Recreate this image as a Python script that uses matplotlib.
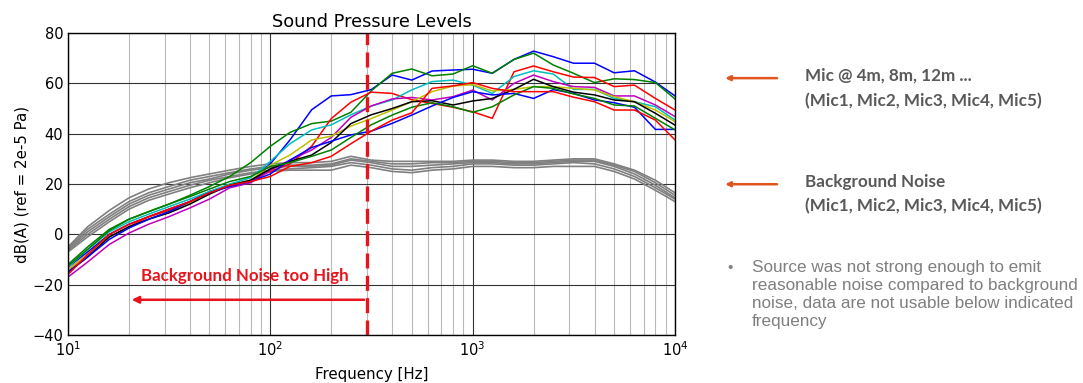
import matplotlib
matplotlib.use("Agg")
import matplotlib.pyplot as plt
from matplotlib.patches import FancyArrowPatch
from matplotlib.ticker import LogLocator

# 1/3-octave band centre frequencies [Hz]
freqs = [10, 12.5, 16, 20, 25, 31.5, 40, 50, 63, 80,
         100, 125, 160, 200, 250, 315, 400, 500, 630, 800,
         1000, 1250, 1600, 2000, 2500, 3150, 4000, 5000, 6300, 8000, 10000]

# A-weighted levels with the source running, dB(A)
mic_b1 = [-13, -7, 0, 4, 7, 10, 13, 17, 19.5, 21, 28, 37.5, 49.5, 55, 55.5, 57.5,
          63.3, 61.3, 64.9, 65.3, 65.6, 64, 69.5, 72.8, 70.6, 68, 68, 64.2, 65, 60.5, 55]
mic_g1 = [-12, -5, 2, 6, 9, 12, 15.5, 19, 23, 28.5, 35, 40.5, 44, 45, 48.5, 57,
          64, 65.7, 63, 63.7, 67, 64, 69.5, 72, 67.3, 64, 60.3, 61.8, 61.5, 60.3, 53.8]
mic_r1 = [-14, -8, -1, 3, 7, 9.5, 13, 16.5, 19.5, 21.5, 25, 28, 35, 46, 52.5, 56.5,
          56, 53.5, 52, 50.5, 48.7, 46.1, 64.6, 66.9, 64.6, 62.5, 62.3, 58.7, 59.3, 54, 49.4]
mic_c = [-13, -6, 1, 5, 8, 11, 14, 17, 20, 22.5, 29, 36, 41.5, 43.5, 47.5, 51,
         53.4, 57.4, 60.7, 61.3, 59.3, 56, 62.7, 65, 63.7, 57.6, 57.6, 54, 52.7, 50.7, 45.4]
mic_m = [-17, -11, -4, 0.5, 4, 7, 10.5, 14, 18.5, 20.5, 25.5, 29.5, 33.5, 38.5, 46.5, 51,
         53.8, 54.4, 53.4, 54.7, 57.3, 53.4, 60, 63.3, 60.7, 58.7, 58.4, 55, 55, 51.4, 46.8]
mic_y = [-14, -8, -1, 3, 6, 9, 12.5, 16, 19.5, 21.5, 27.5, 31.5, 37.5, 39, 43, 46,
         49.4, 52.7, 56.7, 58.9, 59.5, 57, 57.6, 58.7, 58.7, 58, 57.4, 54.7, 52.7, 49.4, 44.8]
mic_k = [-15, -9, -1, 3, 6, 8.5, 12, 16, 19.5, 21.5, 26, 29, 31.5, 36.5, 44, 47.5,
         50, 52.7, 53.1, 51.4, 53, 54, 57.6, 61.6, 58.7, 56.5, 55.4, 53.4, 52.7, 48.1, 43.4]
mic_b2 = [-15, -9, -2, 2.5, 6, 9, 13, 16.5, 19, 21, 24, 29.5, 34.5, 37, 39.5, 41,
          44.1, 47.4, 51, 54.4, 56.7, 55.4, 56, 54, 57.5, 56, 53.4, 52.3, 50.5, 41.7, 41.7]
mic_g2 = [-12.5, -6, 1.5, 6, 9, 12, 15, 18, 21, 23, 27, 28.5, 31, 33.5, 38.5, 43.5,
          47.4, 50.5, 52.3, 50.7, 48.5, 50.7, 55.4, 58.7, 58, 55.8, 54, 51.4, 51, 46.1, 41.5]
mic_r2 = [-16, -8, 0, 4, 7, 10, 13, 16.5, 19.5, 21, 23, 27, 28.5, 31, 36, 41,
          45.4, 48.3, 58, 59, 60.3, 58, 56.7, 56.7, 56.7, 54.5, 52.7, 49.4, 49.4, 45.4, 37.5]

# background noise, source off
bg_1 = [-5, 3, 9.5, 14.5, 18, 20.5, 22.5, 24, 25.5, 27, 28, 28.5, 28.5, 29, 31, 29.5,
        29, 29, 29, 29, 29.5, 29.5, 29, 29, 29.5, 30, 30, 28, 25.5, 21.5, 16.5]
bg_2 = [-5.5, 2, 8, 13, 16.5, 19, 21.5, 23, 24.5, 26, 27, 27.5, 27.5, 28, 30, 29,
        28, 28, 28.5, 28.5, 29, 29, 28.5, 28.5, 29, 29.5, 29.5, 27.5, 25, 20.5, 15.5]
bg_3 = [-6, 1, 7, 12, 15.5, 18, 20.5, 22, 24, 25.5, 26.5, 27, 27, 27.5, 29.5, 28.5,
        27, 27, 27.5, 28, 28.5, 28.5, 28, 28, 28.5, 29, 29, 27, 24, 19.5, 14.5]
bg_4 = [-6.5, 0, 6, 11, 14.5, 17, 19.5, 21.5, 23, 24.5, 25.5, 26, 26.5, 27, 28.5, 27.5,
        26, 25.5, 26.5, 27, 28, 28, 27.5, 27.5, 28, 28.5, 28, 26, 23, 18.5, 14]
bg_5 = [-7, -1, 5, 10, 13.5, 16, 18.5, 20.5, 22.5, 24, 25, 25.5, 25.5, 25.5, 27.5, 26.5,
        25, 24.5, 25.5, 26, 27, 27, 26.5, 26.5, 27, 27, 27, 25, 22, 17.5, 13]

mic_series = [mic_b1, mic_g1, mic_r1, mic_c, mic_m, mic_y, mic_k, mic_b2, mic_g2, mic_r2]
mic_colors = ["b", "g", "r", "c", "m", "y", "k", "b", "g", "r"]
bg_series = [bg_1, bg_2, bg_3, bg_4, bg_5]

cutoff_hz = 300
arrow_end_hz = 20
arrow_level = -26

fig = plt.figure(figsize=(10.83, 3.83), dpi=100)
fig.patch.set_facecolor("white")
ax = fig.add_axes([0.0628, 0.1253, 0.5605, 0.7885])

for bg in bg_series:
    ax.semilogx(freqs, bg, color="0.5", lw=1.2)
for lev, col in zip(mic_series, mic_colors):
    ax.semilogx(freqs, lev, color=col, lw=1.1)

ax.set_xlim(10, 10000)
ax.set_ylim(-40, 80)
ax.set_yticks(range(-40, 81, 20))
ax.xaxis.set_minor_locator(LogLocator(base=10, subs=range(2, 10)))
ax.grid(True, which="major", color="0.2", lw=0.8)
ax.grid(True, which="minor", axis="x", color="0.72", lw=0.8)
ax.tick_params(which="both", direction="in", labelsize=10.5, length=0)
for sp in ax.spines.values():
    sp.set_color("black")
    sp.set_linewidth(1.0)

ax.set_title("Sound Pressure Levels", fontsize=12.8, pad=4)
ax.set_xlabel("Frequency [Hz]", fontsize=10.8, labelpad=6)
ax.set_ylabel("dB(A) (ref = 2e-5 Pa)", fontsize=10.8, labelpad=2)

# usable-frequency limit
ax.axvline(cutoff_hz, color="#e8141c", lw=2.4, dashes=(4.5, 2.2))
ax.annotate("", xy=(arrow_end_hz, arrow_level), xytext=(cutoff_hz, arrow_level),
            arrowprops=dict(arrowstyle="-|>", color="#e8141c", lw=1.8, mutation_scale=10))
ax.text(75, -16.5, "Background Noise too High", color="#e8141c", fontsize=12.2,
        fontweight="bold", family="Lato", ha="center", va="center")

# side notes
side_gray = "#595959"
arrow_col = "#e0541f"
for y in (0.796, 0.519):
    fig.patches.append(FancyArrowPatch(
        (0.720, y), (0.667, y), transform=fig.transFigure, arrowstyle="-|>",
        mutation_scale=7, color=arrow_col, lw=1.8))
side_lines = [(0.803, "Mic @ 4m, 8m, 12m ..."),
              (0.736, "(Mic1, Mic2, Mic3, Mic4, Mic5)"),
              (0.525, "Background Noise"),
              (0.462, "(Mic1, Mic2, Mic3, Mic4, Mic5)")]
for y, s in side_lines:
    fig.text(0.743, y, s, fontsize=12.3, fontweight="bold", family="Lato",
             color=side_gray, va="center")

note_gray = "#7f7f7f"
fig.text(0.672, 0.300, "\u2022", fontsize=11, color=note_gray, va="center",
         family="Liberation Sans")
fig.text(0.694, 0.320,
         "Source was not strong enough to emit\n"
         "reasonable noise compared to background\n"
         "noise, data are not usable below indicated\n"
         "frequency",
         fontsize=12.3, color=note_gray, va="top", family="Liberation Sans",
         linespacing=1.25)

fig.savefig("out.png", dpi=100)
